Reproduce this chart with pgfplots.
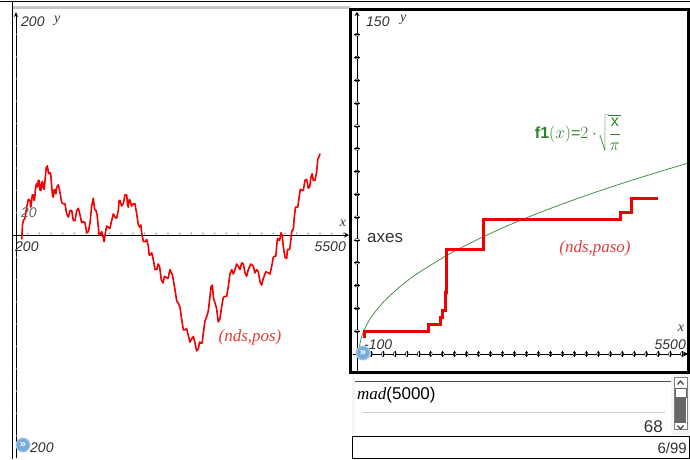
\documentclass[border=0pt]{standalone}
\usepackage{fontspec}
\setmainfont{Liberation Sans}
\newfontfamily\varfont{Liberation Serif}
\usepackage{pgfplots}
\pgfplotsset{compat=1.18}
\usetikzlibrary{arrows.meta,shapes.geometric}
\definecolor{walkred}{RGB}{240,0,0}
\definecolor{lblred}{RGB}{225,60,60}
\definecolor{fgreen}{RGB}{70,145,70}
\definecolor{fgreenTxt}{RGB}{40,130,40}
\definecolor{txtgray}{RGB}{50,50,50}
\definecolor{iconblue}{RGB}{120,170,215}
\tikzset{
  dott/.style={circle, fill=gray, inner sep=0pt, minimum size=1.6pt},
  xov/.style={ellipse, draw=black, line width=0.5pt, inner sep=0pt, minimum width=2.8pt, minimum height=4.6pt},
  yov/.style={ellipse, draw=black, line width=0.5pt, inner sep=0pt, minimum width=4.6pt, minimum height=2.8pt},
  xtk/.style={rectangle, fill=black, inner sep=0pt, minimum width=0.6pt, minimum height=6pt},
  ytk/.style={rectangle, fill=black, inner sep=0pt, minimum width=6pt, minimum height=0.6pt}
}
\begin{document}
\begin{tikzpicture}[x=1pt,y=1pt,font=\fontsize{14}{16}\selectfont]
\path[use as bounding box] (0,0) rectangle (690,459);
% frame pieces
\draw[line width=0.8pt] (0,457.5) -- (690,457.5);
\fill[gray!45] (12,450) rectangle (350,452.5);
\draw[line width=0.8pt] (12,0) -- (12,457.5);
% calc area
\fill[gray!8] (352,0) rectangle (690,87);
\fill[white] (355,24) rectangle (671,84);
\draw[line width=0.6pt, black!70] (355,78) -- (671,78);
\draw[line width=0.5pt, black!20] (363,47) -- (665,47);
\node[anchor=west, inner sep=0pt] at (357,64) {\fontsize{17}{19}\selectfont{\varfont\itshape mad}(5000)};
\node[anchor=east, inner sep=0pt, txtgray] at (663,32) {\fontsize{17}{19}\selectfont 68};
% scrollbar
\draw[black!50, fill=white] (674,30) rectangle (687,82);
\fill[black!60] (675,36) rectangle (686,62);
\draw[black!60, fill=white] (675,71) rectangle (686,62);
\fill[black!70] (677,75) -- (680.5,79) -- (684,75) -- (683,74) -- (680.5,77) -- (678,74) -- cycle;
\fill[black!70] (677,33) -- (680.5,29) -- (684,33) -- (683,34) -- (680.5,31) -- (678,34) -- cycle;
\draw[line width=1pt, fill=white] (352.5,1) rectangle (689,23);
\node[anchor=east, inner sep=0pt, txtgray] at (687,11) {\fontsize{15}{17}\selectfont 6/99};
%
% LEFT GRAPH
\begin{axis}[at={(12pt,1pt)}, anchor=south west, scale only axis, width=337pt, height=446pt,
  xmin=-163, xmax=5486, ymin=-200, ymax=200, axis lines=none, clip=false]
\draw[-{Stealth[length=5pt,width=5pt]}, line width=0.8pt] (axis cs:-163,0) -- (axis cs:5486,0);
\draw[-{Stealth[length=5pt,width=4pt]}, line width=0.8pt] (axis cs:-96,-200) -- (axis cs:-96,200);
\pgfplotsinvokeforeach{100,296,492,688,884,1080,1276,1472,1668,1864,2060,2256,2452,2648,2844,3040,3236,3432,3628,3824,4020,4216,4412,4608,4804,5000,5196,5392}{ \node[dott, yshift=1.6pt] at (axis cs:#1,0) {}; }
\pgfplotsinvokeforeach{-180,-160,-140,-120,-100,-80,-60,-40,-20,20,40,60,80,100,120,140,160,180}{ \node[dott, xshift=0.6pt] at (axis cs:-96,#1) {}; }
\addplot[walkred, line width=1.6pt, line join=round] coordinates {
(0,-4)(13,9)(27,13)(55,15)(84,25)(111,32)(139,31)(150,25)(160,27)(177,36)(194,36)(207,31)(220,34)(235,44)(251,46)(265,43)(278,49)(292,49)(307,40)(321,40)(335,47)(348,48)(362,42)(376,41)(391,49)(410,60)(429,62)(451,55)(474,56)(488,54)(503,43)(516,35)(530,34)(545,41)(560,40)(573,37)(587,43)(614,45)(642,38)(669,29)(697,28)(725,28)(754,19)(782,16)(810,22)(837,22)(865,13)(893,13)(922,22)(949,24)(977,18)(1004,11)(1032,12)(1060,11)(1089,2)(1117,3)(1145,11)(1172,26)(1200,33)(1222,23)(1245,22)(1264,18)(1284,7)(1298,0)(1312,0)(1340,3)(1368,-3)(1382,-6)(1396,0)(1423,8)(1451,7)(1479,6)(1508,13)(1536,19)(1564,16)(1591,15)(1619,22)(1633,31)(1648,31)(1675,26)(1703,28)(1731,36)(1760,36)(1773,27)(1787,25)(1801,32)(1815,31)(1842,26)(1870,28)(1898,28)(1927,19)(1955,9)(1983,7)(1997,9)(2011,2)(2039,-6)(2067,-6)(2094,-4)(2122,-10)(2136,-18)(2150,-18)(2178,-16)(2206,-22)(2234,-31)(2263,-31)(2286,-26)(2310,-28)(2339,-40)(2368,-43)(2394,-37)(2420,-38)(2452,-39)(2485,-31)(2527,-36)(2569,-49)(2597,-59)(2625,-61)(2653,-65)(2682,-76)(2709,-85)(2737,-85)(2764,-84)(2792,-90)(2820,-96)(2849,-93)(2877,-91)(2905,-97)(2932,-104)(2960,-102)(2982,-96)(3005,-97)(3024,-97)(3044,-88)(3072,-77)(3101,-73)(3128,-68)(3156,-55)(3175,-46)(3195,-45)(3217,-57)(3240,-61)(3267,-66)(3295,-78)(3323,-75)(3352,-64)(3379,-56)(3407,-55)(3435,-55)(3463,-46)(3491,-35)(3520,-31)(3547,-35)(3575,-31)(3602,-26)(3630,-28)(3658,-31)(3687,-25)(3715,-26)(3743,-34)(3770,-37)(3798,-31)(3840,-26)(3882,-28)(3910,-34)(3939,-31)(3966,-33)(3994,-42)(4021,-45)(4049,-39)(4091,-33)(4133,-34)(4161,-35)(4190,-28)(4217,-20)(4245,-19)(4259,-19)(4274,-10)(4287,-3)(4301,-4)(4323,-5)(4346,2)(4365,0)(4384,-10)(4412,-20)(4441,-21)(4454,-13)(4468,-13)(4490,-13)(4513,-4)(4527,4)(4542,4)(4555,6)(4569,16)(4589,25)(4609,25)(4628,25)(4648,33)(4670,41)(4693,40)(4720,40)(4748,49)(4776,50)(4804,42)(4826,43)(4849,52)(4868,55)(4887,49)(4915,49)(4944,57)(4963,68)(4983,70)(5000,73)};
\end{axis}
\node[anchor=west, inner sep=0pt, txtgray] at (21,437) {\itshape 200};
\node[anchor=west, inner sep=0pt, txtgray] at (54,438) {\varfont\itshape y};
\node[anchor=west, inner sep=0pt, black!60] at (21,246) {\itshape 20};
\node[anchor=west, inner sep=0pt, txtgray] at (15,212) {\itshape 200};
\node[anchor=east, inner sep=0pt, txtgray] at (346,212) {\itshape 5500};
\node[inner sep=0pt, txtgray] at (343,236) {\varfont\itshape x};
\node[inner sep=0pt, lblred] at (250,122) {\fontsize{17}{19}\selectfont\varfont\itshape(nds,pos)};
\node[anchor=west, inner sep=0pt, txtgray] at (30,11) {\itshape 200};
\fill[iconblue!70] (23,14) circle (7.5);
\fill[iconblue] (23,14) circle (6);
\node[white, inner sep=0pt] at (23,14.5) {\fontsize{11}{11}\selectfont\bfseries »};
%
% RIGHT GRAPH
\begin{axis}[at={(353pt,87pt)}, anchor=south west, scale only axis, width=335pt, height=360pt,
  xmin=-100, xmax=5500, ymin=-7.9, ymax=150, axis lines=none, clip=false]
\draw[-{Stealth[length=5pt,width=5pt]}, line width=0.8pt] (axis cs:-100,0) -- (axis cs:5500,0);
\draw[-{Stealth[length=4pt,width=5pt]}, line width=0.8pt] (axis cs:-33,-7.9) -- (axis cs:-33,150);
\pgfplotsinvokeforeach{200,400,600,800,1000,1200,1400,1600,1800,2000,2200,2400,2600,2800,3000,3200,3400,3600,3800,4000,4200,4400,4600,4800,5000,5200,5400}{ \node[xov, fill=white] at (axis cs:#1,0) {}; \node[xtk] at (axis cs:#1,0) {}; }
\pgfplotsinvokeforeach{10,20,30,40,50,60,70,80,90,100,110,120,130,140}{ \node[yov, fill=white] at (axis cs:-33,#1) {}; \node[ytk] at (axis cs:-33,#1) {}; }
\addplot[fgreen, line width=0.8pt, smooth] coordinates {
(0,0)(5,2.52)(10,3.57)(20,5.05)(50,7.98)(100,11.28)(200,15.96)(400,22.57)(700,29.85)(1000,35.68)(1500,43.70)(2000,50.46)(2500,56.42)(3000,61.80)(3500,66.76)(4000,71.36)(4500,75.69)(5000,79.79)(5500,83.68)};
\addplot[walkred, line width=3pt, line join=miter] coordinates {
(100,7)(100,10)(1160,10)(1160,13)(1355,13)(1355,16)(1400,16)(1400,19)(1440,19)(1440,27)(1465,27)(1465,46)(2080,46)(2080,59)(4365,59)(4365,62)(4560,62)(4560,68)(5000,68)};
\end{axis}
\draw[line width=2.5pt] (350.5,86.5) rectangle (688.5,449.5);
\node[anchor=west, inner sep=0pt, txtgray] at (366,437) {\itshape 150};
\node[anchor=west, inner sep=0pt, txtgray] at (400,439) {\varfont\itshape y};
\node[anchor=west, inner sep=0pt, txtgray] at (367,221) {\fontsize{17}{19}\selectfont axes};
\node[inner sep=0pt, fgreenTxt] at (578,326) {\fontsize{16}{18}\selectfont\textbf{f1}\((x)\)=\(\displaystyle 2\cdot\!\sqrt{\frac{\mathrm{x}}{\pi}}\)};
\node[inner sep=0pt, lblred] at (595,211) {\fontsize{17}{19}\selectfont\varfont\itshape(nds,paso)};
\node[inner sep=0pt, txtgray] at (681,131) {\varfont\itshape x};
\node[anchor=east, inner sep=0pt, txtgray] at (686,114) {\itshape 5500};
\node[anchor=west, inner sep=0pt, txtgray] at (364,114) {\itshape -100};
\fill[iconblue!70] (363,106) circle (7.5);
\fill[iconblue] (363,106) circle (6);
\node[white, inner sep=0pt] at (363,106.5) {\fontsize{11}{11}\selectfont\bfseries »};
\end{tikzpicture}
\end{document}
